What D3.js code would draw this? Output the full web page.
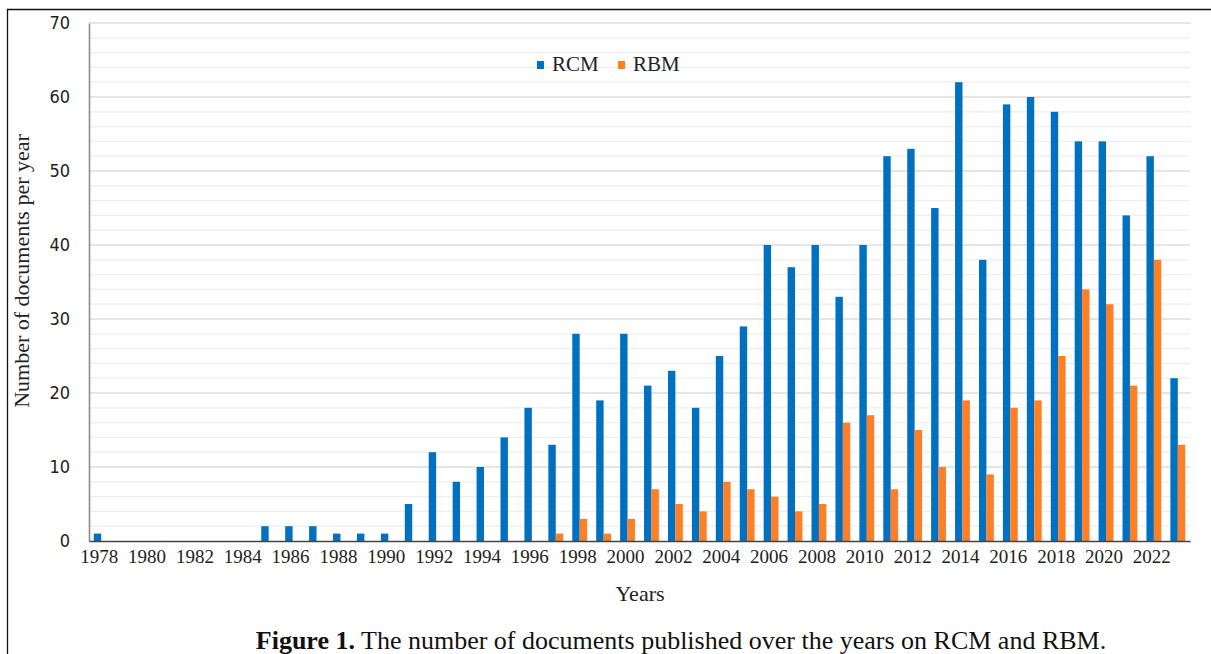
<!DOCTYPE html>
<html>
<head>
<meta charset="utf-8">
<script src="https://cdn.jsdelivr.net/npm/d3@7"></script>
<style>
  body { margin: 0; background: #fff; }
  svg { display: block; }
</style>
</head>
<body>
<svg id="chart" width="1211" height="654"></svg>
<script>
const years = d3.range(1978, 2024);
const rcm = [1,0,0,0,0,0,0,2,2,2,1,1,1,5,12,8,10,14,18,13,28,19,28,21,23,18,25,29,40,37,40,33,40,52,53,45,62,38,59,60,58,54,54,44,52,22];
const rbm = [0,0,0,0,0,0,0,0,0,0,0,0,0,0,0,0,0,0,0,1,3,1,3,7,5,4,8,7,6,4,5,16,17,7,15,10,19,9,18,19,25,34,32,21,38,13];
const seriesNames = ["RCM", "RBM"];
const colors = ["#0070C0", "#FF7F27"];
const yTicks = [0, 10, 20, 30, 40, 50, 60, 70];

const svg = d3.select("#chart");
const W = 1211, H = 654;
const margin = { left: 89, right: 21, top: 23, bottom: 113 };
const x0 = margin.left, x1 = W - margin.right;
const yTop = margin.top, yBot = H - margin.bottom;

// frame
svg.append("path").attr("d", `M7.5,${H} V9.5 H${W}`).attr("fill", "none").attr("stroke", "#111").attr("stroke-width", 1.3);

const x = d3.scaleBand().domain(years).range([x0, x1]).paddingInner(0.38).paddingOuter(0.2);
const xs = d3.scaleBand().domain(seriesNames).range([0, x.bandwidth()]);
const y = d3.scaleLinear().domain([0, 70]).range([yBot, yTop]);

// grid
const g = svg.append("g");
g.selectAll("line.minor").data(d3.range(0, 71, 2).filter(v => v % 10 !== 0)).join("line")
  .attr("x1", x0).attr("x2", x1).attr("y1", d => y(d)).attr("y2", d => y(d))
  .attr("stroke", "#eeeeee").attr("stroke-width", 1.2);
g.selectAll("line.major").data(yTicks.filter(v => v > 0)).join("line")
  .attr("x1", x0).attr("x2", x1).attr("y1", d => y(d)).attr("y2", d => y(d))
  .attr("stroke", "#dcdcdc").attr("stroke-width", 1.5);

// bars
const grp = svg.append("g").selectAll("g").data(years).join("g")
  .attr("transform", d => `translate(${x(d)},0)`);
[rcm, rbm].forEach((arr, si) => {
  grp.append("rect")
    .attr("x", xs(seriesNames[si]))
    .attr("width", xs.bandwidth())
    .attr("y", (d, i) => y(arr[i]))
    .attr("height", (d, i) => yBot - y(arr[i]))
    .attr("fill", colors[si]);
});

// axes
const yAxis = d3.axisLeft(y).tickValues(yTicks).tickSize(0).tickPadding(19);
const ya = svg.append("g").attr("transform", `translate(${x0},0)`).call(yAxis);
ya.select(".domain").attr("stroke", "#8c8c8c").attr("stroke-width", 1.6);
ya.selectAll("text").attr("font-family", "'DejaVu Sans Condensed', 'DejaVu Sans', sans-serif")
  .attr("font-stretch", "condensed").attr("font-size", 18).attr("fill", "#222");

const xAxis = d3.axisBottom(x).tickValues(years.filter(v => v % 2 === 0)).tickSize(0).tickPadding(9);
const xa = svg.append("g").attr("transform", `translate(0,${yBot})`).call(xAxis);
xa.select(".domain").attr("stroke", "#444").attr("stroke-width", 1.6);
xa.selectAll("text").attr("font-family", "'Liberation Serif', serif").attr("font-size", 19).attr("fill", "#222")
  .attr("dx", -2);

// axis titles
svg.append("text").attr("x", 640).attr("y", 601).attr("text-anchor", "middle")
  .attr("font-family", "'Liberation Serif', serif").attr("font-size", 22).attr("fill", "#222").text("Years");
svg.append("text").attr("transform", "translate(29,271) rotate(-90)").attr("text-anchor", "middle")
  .attr("font-family", "'Liberation Serif', serif").attr("font-size", 22).attr("fill", "#222")
  .text("Number of documents per year");

// legend
const legendX = [537, 618];
seriesNames.forEach((n, i) => {
  svg.append("rect").attr("x", legendX[i]).attr("y", 61).attr("width", 7).attr("height", 8).attr("fill", colors[i]);
  svg.append("text").attr("x", legendX[i] + 15).attr("y", 71).attr("font-family", "'Liberation Serif', serif")
    .attr("font-size", 21).attr("fill", "#222").text(n);
});

// caption
const cap = svg.append("text").attr("x", 681).attr("y", 649).attr("text-anchor", "middle")
  .attr("font-family", "'Liberation Serif', serif").attr("font-size", 26).attr("fill", "#111");
cap.append("tspan").attr("font-weight", "bold").text("Figure 1.");
cap.append("tspan").text(" The number of documents published over the years on RCM and RBM.");
</script>
</body>
</html>
